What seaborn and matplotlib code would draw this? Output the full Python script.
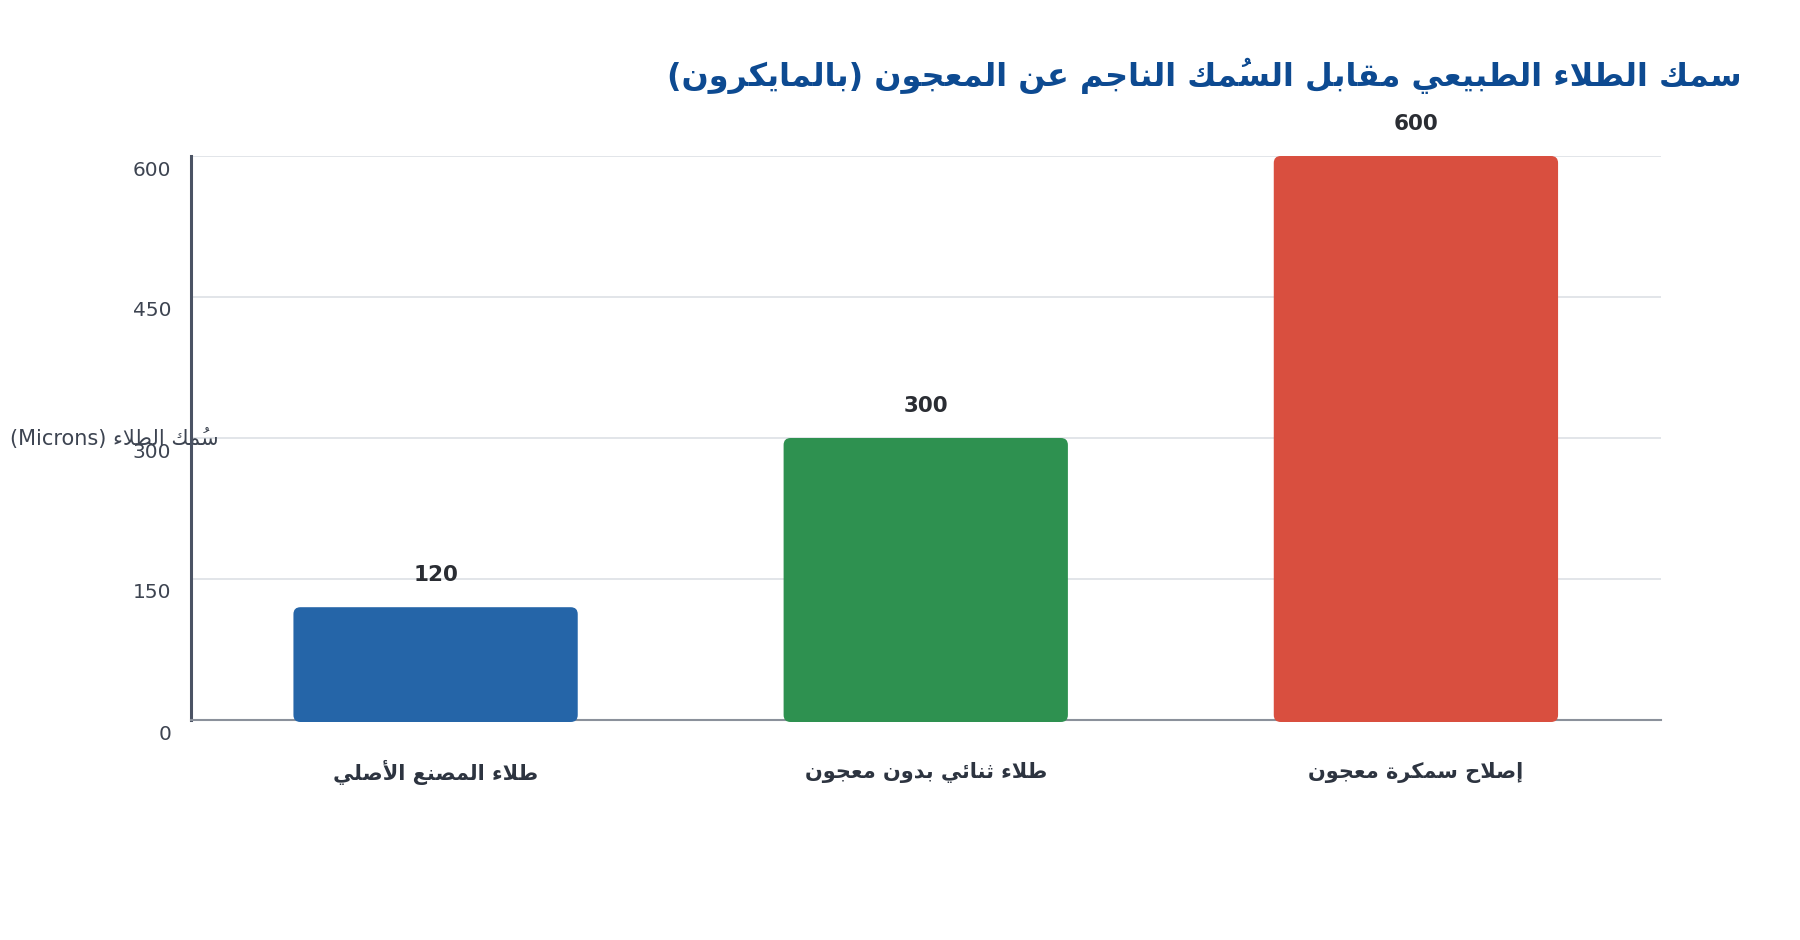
import matplotlib
matplotlib.use("Agg")
import pandas as pd
import matplotlib.pyplot as plt
import seaborn as sns
from matplotlib.patches import FancyBboxPatch
from matplotlib.transforms import ScaledTranslation

# 데이터
title = "سمك الطلاء الطبيعي مقابل السُمك الناجم عن المعجون (بالمايكرون)"
y_label = "سُمك الطلاء (Microns)"
categories = ["طلاء المصنع الأصلي", "طلاء ثنائي بدون معجون", "إصلاح سمكرة معجون"]
thickness = [120, 300, 600]
bar_colors = ["#2565a8", "#2e9150", "#d94f3f"]
y_ticks = [0, 150, 300, 450, 600]

# matplotlib has no arabic shaping: map letters to presentation forms (isolated, final, initial, medial)
FORMS = {
    "\u0621": (0xFE80,),
    "\u0623": (0xFE83, 0xFE84),
    "\u0625": (0xFE87, 0xFE88),
    "\u0626": (0xFE89, 0xFE8A, 0xFE8B, 0xFE8C),
    "\u0627": (0xFE8D, 0xFE8E),
    "\u0628": (0xFE8F, 0xFE90, 0xFE91, 0xFE92),
    "\u0629": (0xFE93, 0xFE94),
    "\u062B": (0xFE99, 0xFE9A, 0xFE9B, 0xFE9C),
    "\u062C": (0xFE9D, 0xFE9E, 0xFE9F, 0xFEA0),
    "\u062D": (0xFEA1, 0xFEA2, 0xFEA3, 0xFEA4),
    "\u062F": (0xFEA9, 0xFEAA),
    "\u0631": (0xFEAD, 0xFEAE),
    "\u0633": (0xFEB1, 0xFEB2, 0xFEB3, 0xFEB4),
    "\u0635": (0xFEB9, 0xFEBA, 0xFEBB, 0xFEBC),
    "\u0637": (0xFEC1, 0xFEC2, 0xFEC3, 0xFEC4),
    "\u0639": (0xFEC9, 0xFECA, 0xFECB, 0xFECC),
    "\u0642": (0xFED5, 0xFED6, 0xFED7, 0xFED8),
    "\u0643": (0xFED9, 0xFEDA, 0xFEDB, 0xFEDC),
    "\u0644": (0xFEDD, 0xFEDE, 0xFEDF, 0xFEE0),
    "\u0645": (0xFEE1, 0xFEE2, 0xFEE3, 0xFEE4),
    "\u0646": (0xFEE5, 0xFEE6, 0xFEE7, 0xFEE8),
    "\u0648": (0xFEED, 0xFEEE),
    "\u064A": (0xFEF1, 0xFEF2, 0xFEF3, 0xFEF4),
}
LAM_ALEF = {"\u0627": (0xFEFB, 0xFEFC), "\u0623": (0xFEF7, 0xFEF8), "\u0625": (0xFEF9, 0xFEFA)}
MARKS = {"\u064F"}


def neighbour(s, i, step):
    j = i + step
    while 0 <= j < len(s) and s[j] in MARKS:
        j += step
    return s[j] if 0 <= j < len(s) else None


def shape(s):
    out = []
    i = 0
    while i < len(s):
        c = s[i]
        if c not in FORMS:
            out.append(c)
            i += 1
            continue
        prev = neighbour(s, i, -1)
        nxt = neighbour(s, i, 1)
        joins_prev = prev in FORMS and len(FORMS[prev]) == 4 and len(FORMS[c]) > 1
        if c == "\u0644" and nxt in LAM_ALEF and s[i + 1] == nxt:
            out.append(chr(LAM_ALEF[nxt][1 if joins_prev else 0]))
            i += 2
            continue
        f = FORMS[c]
        joins_next = len(f) == 4 and nxt in FORMS and len(FORMS[nxt]) > 1
        if len(f) == 1:
            g = f[0]
        elif len(f) == 2:
            g = f[1] if joins_prev else f[0]
        else:
            g = f[3] if (joins_prev and joins_next) else f[1] if joins_prev else f[2] if joins_next else f[0]
        out.append(chr(g))
        i += 1
    return "".join(out)


def visual(s):
    # right-to-left display order, marks kept just before their letter
    clusters = []
    for c in shape(s):
        if c in MARKS and clusters:
            clusters[-1] = c + clusters[-1]
        else:
            clusters.append(c)
    mirror = {"(": ")", ")": "("}
    clusters = [mirror.get(c, c) for c in clusters[::-1]]
    res, run = [], []
    for c in clusters:
        if c.isascii() and c.isalnum():
            run.append(c)
        else:
            res.extend(run[::-1])
            run = []
            res.append(c)
    res.extend(run[::-1])
    return "".join(res)


sns.set_theme(style="white")
plt.rcParams["font.family"] = ["DejaVu Sans"]

df = pd.DataFrame({"category": [visual(c) for c in categories], "thickness": thickness})

fig = plt.figure(figsize=(18, 9.4), dpi=100)
ax = fig.add_axes([190.5 / 1800, 1 - 720 / 940, 1470.5 / 1800, 564 / 940])

sns.barplot(data=df, x="category", y="thickness", hue="category", palette=bar_colors,
            saturation=1, width=0.58, legend=False, ax=ax)

ax.set_xlim(-0.5, 2.5)
ax.set_ylim(0, 600)
ax.set_yticks(y_ticks)
ax.yaxis.grid(True, color="#e2e5e9", linewidth=1.4)
ax.set_axisbelow(True)

# rounded bars
fig.canvas.draw()
bb = ax.get_window_extent()
px_x = bb.width / 3
px_y = bb.height / 600
for p in list(ax.patches):
    fb = FancyBboxPatch((p.get_x(), p.get_y() - 2 / px_y), p.get_width(), p.get_height() + 2 / px_y,
                        boxstyle=f"round,pad=0,rounding_size={7 / px_x}", mutation_aspect=px_x / px_y,
                        facecolor=p.get_facecolor(), edgecolor="none", zorder=3, clip_on=False)
    p.remove()
    ax.add_patch(fb)

for i, v in enumerate(thickness):
    ax.annotate(str(v), (i, v), xytext=(0, 23), textcoords="offset points", ha="center", va="center",
                fontsize=15.5, fontweight="bold", color="#2a2d33")

for s in ["top", "right"]:
    ax.spines[s].set_visible(False)
ax.spines["left"].set_color("#4b5364")
ax.spines["left"].set_linewidth(2.2)
ax.spines["bottom"].set_color("#8b919b")
ax.spines["bottom"].set_linewidth(1.5)

ax.tick_params(axis="y", length=0, pad=14, labelsize=14.5, labelcolor="#3d4451")
ax.tick_params(axis="x", length=0, pad=38, labelsize=15, labelcolor="#2d3440")
ax.set_xlabel("")
ax.set_ylabel(visual(y_label), rotation=0, fontsize=15, color="#3d4451", ha="center", va="center")
ax.yaxis.set_label_coords((114 - 190.5) / 1470.5, 0.5)

fig.canvas.draw()
offset = ScaledTranslation(0, -0.12, fig.dpi_scale_trans)
for lab in ax.get_yticklabels():
    lab.set_transform(lab.get_transform() + offset)
for lab in ax.get_xticklabels():
    lab.set_fontweight("bold")
    lab.set_verticalalignment("center")

fig.text(1742 / 1800, 1 - 76 / 940, visual(title), ha="right", va="center", fontsize=22.95,
         fontweight="bold", color="#0d4a91")

fig.savefig("out.png", dpi=100, facecolor="white")
